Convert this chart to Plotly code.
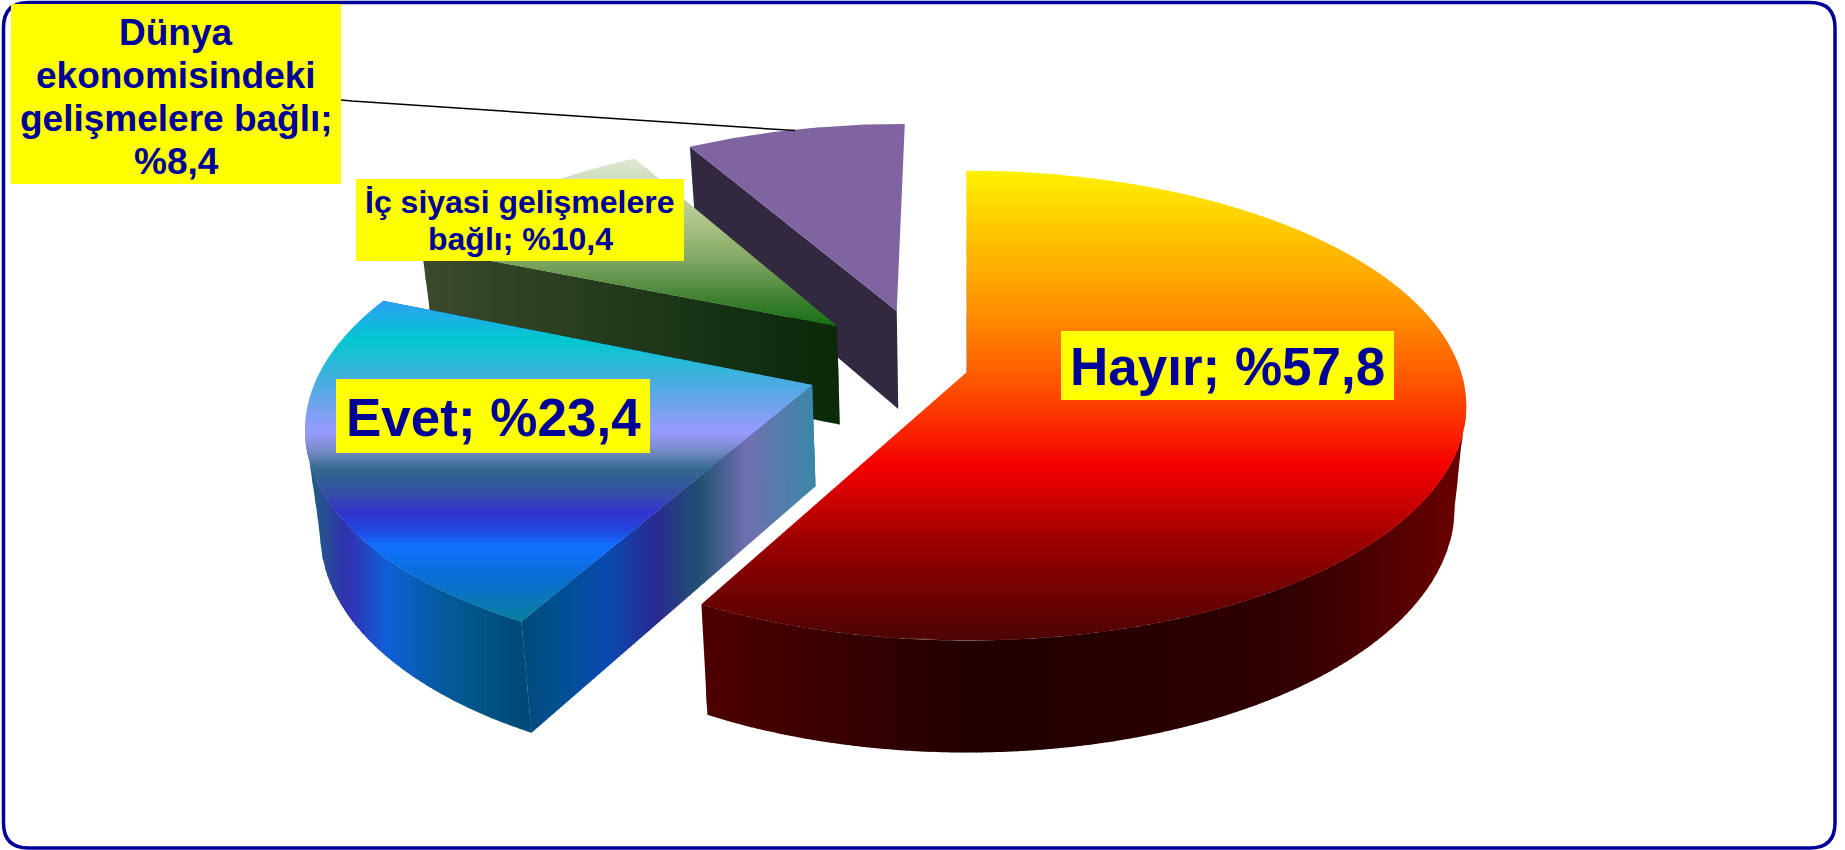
import math
import plotly.graph_objects as go

# ---- chart data ----
categories = ["Hayır", "Evet", "İç siyasi gelişmelere bağlı", "Dünya ekonomisindeki gelişmelere bağlı"]
values = [57.8, 23.4, 10.4, 8.4]
label_lines = [["Hayır; %57,8"], ["Evet; %23,4"],
               ["İç siyasi gelişmelere", "bağlı; %10,4"],
               ["Dünya", "ekonomisindeki", "gelişmelere bağlı;", "%8,4"]]

# explosion of each slice in pie radii (right, away from viewer)
explode = [(0.008, -0.056), (-0.300, -0.112), (-0.260, 0.147), (-0.138, 0.216)]

# perspective camera
X0, Y0, A, B, K, DEPTH, SHRINK, RADIUS = 963, 359, 495, 228.7, 0.1435, 100, 0.977, 0.99

# gradient stops: (screen position, colour)
top_stops = [
    [(172, "#FFF000"), (317, "#FF8C00"), (388, "#FF5000"), (466, "#F60000"), (545, "#990000"), (639, "#4D0404")],
    [(300, "#2E9DF5"), (340, "#03C8CF"), (380, "#45AEE0"), (413, "#7CA0F0"), (433, "#9A9AFF"), (453, "#7088C0"),
     (470, "#30688C"), (493, "#3550A8"), (513, "#3333CC"), (530, "#2248E0"), (547, "#1070FF"), (580, "#0A6FD0"), (621, "#0A7FA0")],
    [(162, "#DDE6D2"), (227, "#A8C080"), (263, "#7DA560"), (300, "#3F8030"), (326, "#157015")],
    [(120, "#8064A2"), (320, "#8064A2")],
]
side_stops = [
    [(710, "#4D0000"), (985, "#200000"), (1290, "#300000"), (1460, "#6A0000")],
    [(310, "#206080"), (347, "#3030B0"), (387, "#1060D8"), (438, "#055AA0"), (478, "#005588"), (521, "#004A78"),
     (557, "#005090"), (608, "#0A4AB0"), (656, "#2A2A90"), (699, "#225070"), (747, "#7070B0"), (815, "#3A88A8")],
    [(425, "#3C4A2C"), (765, "#102E10"), (840, "#0A2A08")],
    [(680, "#322840"), (905, "#322840")],
]
# label box: left, top, width, height, font size, line pitch, text shift
label_boxes = [(1061, 331, 333, 69, 53, 0, 1), (336, 379, 314, 74, 53, 0, 1),
               (356, 179, 328, 82, 32, 37, 0), (11, 4, 330, 180, 37, 43, 3)]
NAVY = "#000099"


def project(u, v):
    w = 1 + K * v
    return X0 + A * u / w, Y0 - B * v / w, w


def lower(x, y, w):
    return X0 + (x - X0) * SHRINK, y + DEPTH * w ** -0.7


def clip(poly, axis, lo, hi):
    def cut(pts, inside, t):
        out = []
        for i, a in enumerate(pts):
            b = pts[(i + 1) % len(pts)]
            ia, ib = inside(a), inside(b)
            if ia:
                out.append(a)
            if ia != ib:
                f = (t - a[axis]) / (b[axis] - a[axis])
                out.append((a[0] + f * (b[0] - a[0]), a[1] + f * (b[1] - a[1])))
        return out
    p = cut(poly, lambda q: q[axis] >= lo, lo)
    return cut(p, lambda q: q[axis] <= hi, hi) if p else p


def colour_at(stops, t):
    def rgb(h):
        return [int(h[i:i + 2], 16) for i in (1, 3, 5)]
    if t <= stops[0][0]:
        c = rgb(stops[0][1])
    elif t >= stops[-1][0]:
        c = rgb(stops[-1][1])
    else:
        for (a, ca), (b, cb) in zip(stops, stops[1:]):
            if a <= t <= b:
                f = (t - a) / (b - a)
                c = [x + f * (y - x) for x, y in zip(rgb(ca), rgb(cb))]
                break
    return "rgb(%d,%d,%d)" % tuple(round(x) for x in c)


def add_poly(fig, poly, colour):
    if len(poly) < 3:
        return
    fig.add_trace(go.Scatter(x=[p[0] for p in poly] + [poly[0][0]], y=[p[1] for p in poly] + [poly[0][1]],
                             mode="lines", line=dict(width=0), fill="toself", fillcolor=colour,
                             hoverinfo="skip", showlegend=False))


def add_bands(fig, poly, stops, axis, step):
    coords = [p[axis] for p in poly]
    lo, hi = min(coords), max(coords)
    t = lo
    while t < hi:
        # each band overlaps the next one so no hairline seams appear
        add_poly(fig, clip(poly, axis, t, min(t + step + 0.8, hi)), colour_at(stops, t + step / 2))
        t += step


fig = go.Figure()
total = sum(values)
angles = [0]
for val in values:
    angles.append(angles[-1] + 360 * val / total)

# slices are painted from the back of the pie to the front
for i in (3, 2, 1, 0):
    a0, a1 = math.radians(angles[i]), math.radians(angles[i + 1])
    ou, ov = explode[i]
    n = max(int((angles[i + 1] - angles[i]) * 1.5), 8)
    rim = []
    for j in range(n + 1):
        th = a0 + (a1 - a0) * j / n
        rim.append(project(ou + RADIUS * math.sin(th), ov + RADIUS * math.cos(th)))
    apex = project(ou, ov)

    top = [(apex[0], apex[1])] + [(x, y) for x, y, _ in rim]
    low_rim = [lower(*p) for p in rim]
    low_apex = lower(*apex)

    # the visible wall runs between the silhouette points of the rim
    xs = [p[0] for p in rim]
    first = xs.index(max(xs)) if i == 0 else 0
    last = xs.index(min(xs)) if i == 1 else n
    arc_face = [(x, y) for x, y, _ in rim[first:last + 1]] + low_rim[first:last + 1][::-1]
    start_face = [top[0], top[1], low_rim[0], low_apex]
    end_face = [top[0], top[-1], low_rim[-1], low_apex]
    # only the faces that turn towards the viewer are painted
    faces = {0: [arc_face, start_face], 1: [arc_face, start_face, end_face], 2: [start_face], 3: [start_face]}[i]
    step = {0: 5, 1: 2.5, 2: 4, 3: 400}[i]
    for face in faces:
        add_bands(fig, face, side_stops[i], 0, step)
    if i == 0:  # thin sliver of the cut face below the yellow rim
        add_poly(fig, start_face, "#6B4A10")
    add_bands(fig, top, top_stops[i], 1, 2 if i != 3 else 400)

# leader line of the smallest slice
li = 3
mid = math.radians((angles[li] + angles[li + 1]) / 2)
lx, ly, _ = project(explode[li][0] + RADIUS * math.sin(mid), explode[li][1] + RADIUS * math.cos(mid))
box = label_boxes[li]
fig.add_trace(go.Scatter(x=[box[0] + box[2], box[0] + box[2] + 11, lx], y=[100, 101, ly + 1], mode="lines",
                         line=dict(color="black", width=1.5), hoverinfo="skip", showlegend=False))

for lines, (bx, by, bw, bh, fs, pitch, shift) in zip(label_lines, label_boxes):
    fig.add_shape(type="rect", x0=bx, x1=bx + bw, y0=by, y1=by + bh, xref="x", yref="y",
                  fillcolor="#FFFF00", line=dict(width=0), layer="above")
    for k, line in enumerate(lines):
        fig.add_annotation(x=bx + bw / 2, y=by + bh / 2 + shift + (k - (len(lines) - 1) / 2) * pitch,
                           xref="x", yref="y", text=line, showarrow=False, borderpad=0,
                           xanchor="center", yanchor="middle",
                           font=dict(family="Liberation Sans", size=fs, color=NAVY, weight="bold"))

# rounded frame
fl, ft, fr, fb, rad = 3.5, 2.5, 1835, 848, 25
frame = (f"M {fl+rad} {ft} L {fr-rad} {ft} Q {fr} {ft} {fr} {ft+rad} L {fr} {fb-rad} Q {fr} {fb} {fr-rad} {fb} "
         f"L {fl+rad} {fb} Q {fl} {fb} {fl} {fb-rad} L {fl} {ft+rad} Q {fl} {ft} {fl+rad} {ft} Z")
fig.add_shape(type="path", path=frame, xref="x", yref="y", line=dict(color=NAVY, width=3.5), layer="below")

fig.update_layout(width=1845, height=850, margin=dict(l=0, r=0, t=0, b=0), paper_bgcolor="white",
                  plot_bgcolor="white", showlegend=False,
                  xaxis=dict(range=[0, 1845], visible=False, fixedrange=True),
                  yaxis=dict(range=[850, 0], visible=False, fixedrange=True))
fig.write_html("out.html", config={"displayModeBar": False},
               post_script="document.body.style.margin='0';document.body.style.overflow='hidden';")
